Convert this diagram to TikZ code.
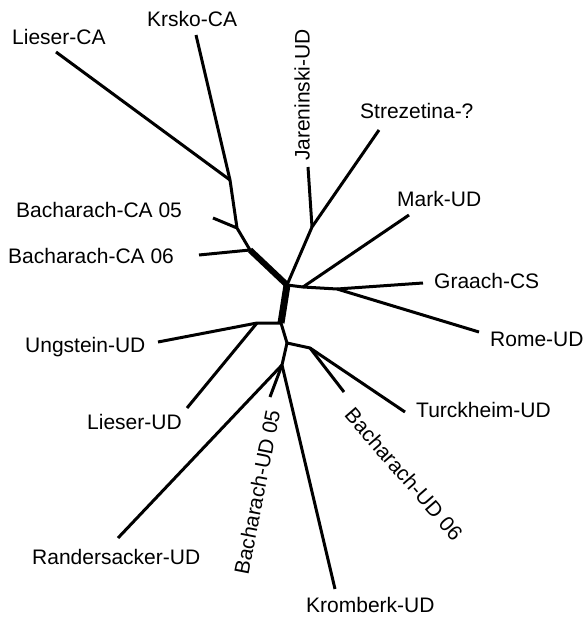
\documentclass[tikz,border=0pt]{standalone}
\usepackage{fontspec}
\setmainfont{Liberation Sans}
\begin{document}
\begin{tikzpicture}[x=1pt,y=-1pt,
  br/.style={line width=3pt,line join=round},
  thickbr/.style={line width=7pt,line join=round},
  lab/.style={inner sep=0pt,font=\fontsize{21pt}{24pt}\selectfont,anchor=base west},
  rlab/.style={inner sep=0pt,font=\fontsize{21pt}{24pt}\selectfont,anchor=center}]
\useasboundingbox (0,0) rectangle (585,617);
% internal nodes
\coordinate (A) at (287,285);
\coordinate (B) at (281,323);
\coordinate (C) at (250,250);
\coordinate (D) at (237,228);
\coordinate (E) at (230,180);
\coordinate (F) at (312,227);
\coordinate (M) at (303,287);
\coordinate (G) at (337,289);
\coordinate (H) at (257,323);
\coordinate (I) at (287,343);
\coordinate (J) at (310,348);
\coordinate (K) at (282,365);
% leaf ends
\coordinate (lieserCA) at (56,52);
\coordinate (krsko) at (196,35);
\coordinate (bca05) at (213,218);
\coordinate (bca06) at (199,255);
\coordinate (jar) at (308,167);
\coordinate (strez) at (379,130);
\coordinate (mark) at (409,215);
\coordinate (graach) at (423,283);
\coordinate (rome) at (479,332);
\coordinate (ung) at (158,342);
\coordinate (lieserUD) at (187,408);
\coordinate (turck) at (405,412);
\coordinate (bud06) at (344,392);
\coordinate (rand) at (118,538);
\coordinate (bud05) at (270,397);
\coordinate (krom) at (335,589);
% branches
\draw[thickbr] (A) -- (B);
\draw[thickbr,line width=6pt] (A) -- (C);
\draw[br] (C) -- (D) -- (E) -- (krsko);
\draw[br] (E) -- (lieserCA);
\draw[br] (D) -- (bca05);
\draw[br] (C) -- (bca06);
\draw[br] (A) -- (F) -- (strez);
\draw[br] (F) -- (jar);
\draw[br] (A) -- (M) -- (G) -- (graach);
\draw[br] (M) -- (mark);
\draw[br] (G) -- (rome);
\draw[br] (B) -- (H) -- (ung);
\draw[br] (H) -- (lieserUD);
\draw[br] (B) -- (I) -- (J) -- (turck);
\draw[br] (J) -- (bud06);
\draw[br] (I) -- (K) -- (krom);
\draw[br] (K) -- (rand);
\draw[br] (K) -- (bud05);
% labels
\node[lab] (tLieserCA) at (12,45) {Lieser-CA};
\node[lab] (tKrsko) at (147,27) {Krsko-CA};
\node[lab] (tBCA05) at (16,218) {Bacharach-CA 05};
\node[lab] (tBCA06) at (8,263) {Bacharach-CA 06};
\node[rlab,rotate=90] (tJar) at (302,95) {Jareninski-UD};
\node[lab] (tStrez) at (360,119) {Strezetina-?};
\node[lab] (tMark) at (397,207) {Mark-UD};
\node[lab] (tGraach) at (434,288) {Graach-CS};
\node[lab] (tRome) at (490,346) {Rome-UD};
\node[lab] (tTurck) at (416,417) {Turckheim-UD};
\node[lab] (tUng) at (25,352) {Ungstein-UD};
\node[lab] (tLieserUD) at (87,429) {Lieser-UD};
\node[lab] (tRand) at (32,564) {Randersacker-UD};
\node[lab] (tKrom) at (306,612) {Kromberk-UD};
\node[rlab,rotate=79] (tBUD05) at (257,492) {Bacharach-UD 05};
\node[rlab,rotate=-49] (tBUD06) at (404,474) {Bacharach-UD 06};
\end{tikzpicture}
\end{document}
